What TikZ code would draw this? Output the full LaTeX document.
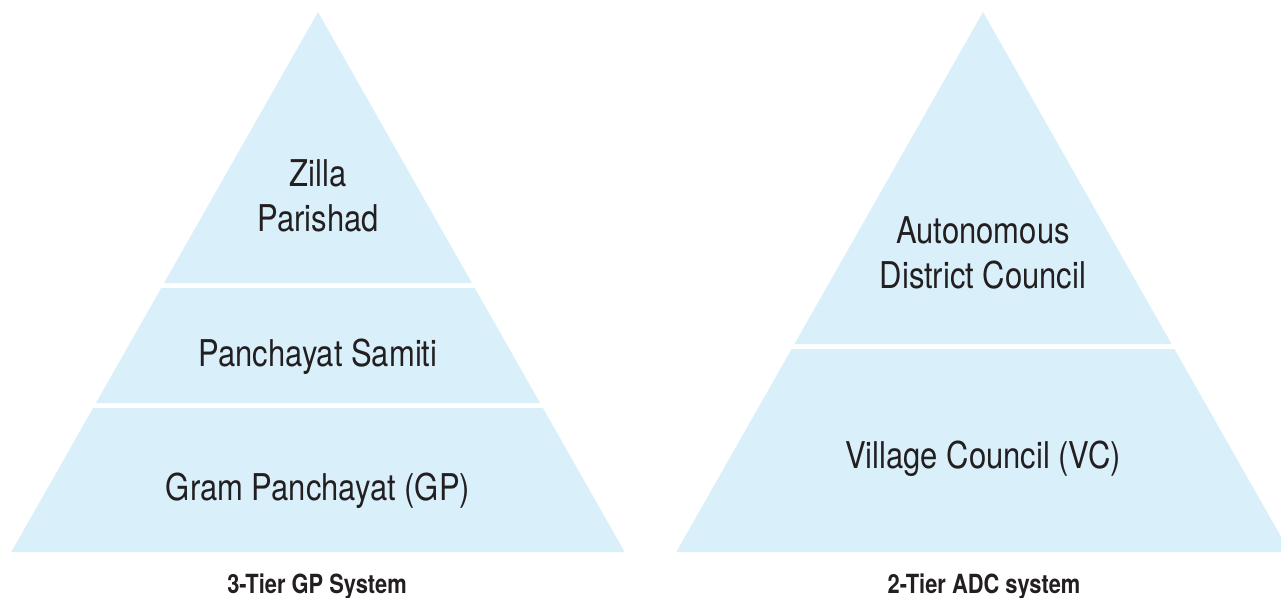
\documentclass[tikz,border=0pt]{standalone}
\usepackage{fontspec}
\setmainfont{TeX Gyre Heros}[FakeStretch=0.84]
\newfontfamily\capfont{TeX Gyre Heros}[FakeStretch=0.83]
\definecolor{tierblue}{RGB}{217,240,250}
\definecolor{ink}{RGB}{35,31,32}
\tikzset{
  tier/.style={fill=tierblue},
  tierlabel/.style={font=\fontsize{21}{25.6}\selectfont, text=ink, align=center, anchor=base, inner sep=0pt},
  pyrcaption/.style={font=\capfont\bfseries\fontsize{15}{17}\selectfont, text=ink, anchor=base, inner sep=0pt}
}

\begin{document}
\begin{tikzpicture}[x=0.02cm, y=-0.02cm]
    \useasboundingbox (0,0) rectangle (1281,598);
    \clip (0,0) rectangle (1281,598);

    % Niveles de las dos pirámides (centro, borde superior, borde inferior)
    \foreach \cx/\ya/\yb in {318/12/283, 318/288/403, 318/408/552, 983/12/344, 983/349/552} {
        \pgfmathsetmacro{\wa}{0.568*(\ya-12)}
        \pgfmathsetmacro{\wb}{0.568*(\yb-12)}
        \fill[tier] (\cx-\wa,\ya) -- (\cx+\wa,\ya) -- (\cx+\wb,\yb) -- (\cx-\wb,\yb) -- cycle;
    }

    % Sistema de tres niveles (base = última línea del texto)
    \node[tierlabel] (zp) at (318,231.7) {Zilla\\Parishad};
    \node[tierlabel] (ps) at (318,366.7) {Panchayat Samiti};
    \node[tierlabel] (gp) at (318,500) {Gram Panchayat (GP)};
    \node[pyrcaption] (capgp) at (317,593.3) {3-Tier GP System};

    % Sistema de dos niveles
    \node[tierlabel] (adc) at (983,288.3) {Autonomous\\District Council};
    \node[tierlabel] (vc) at (983,468.3) {Village Council (VC)};
    \node[pyrcaption] (capadc) at (984,593.3) {2-Tier ADC system};

\end{tikzpicture}
\end{document}
